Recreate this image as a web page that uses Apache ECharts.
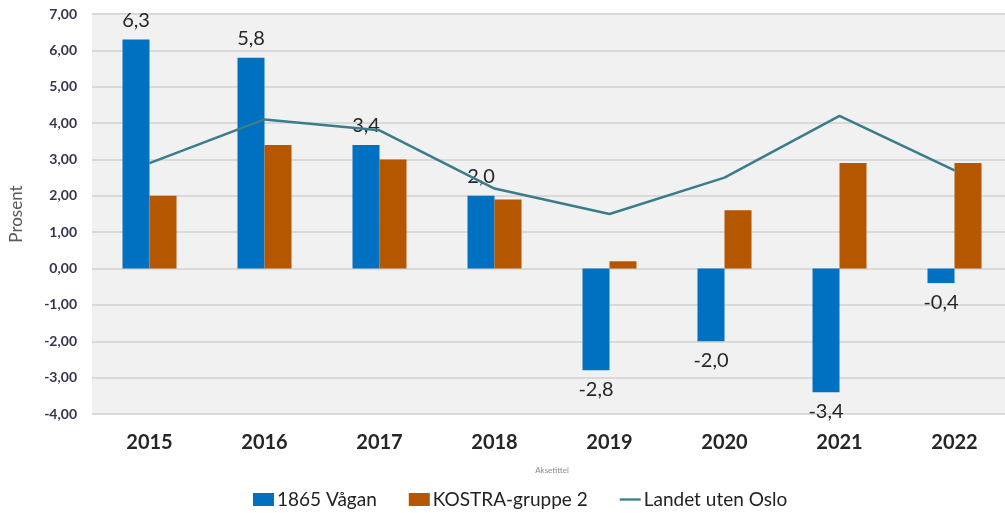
<!DOCTYPE html>
<html><head><meta charset="utf-8">
<script src="https://cdn.jsdelivr.net/npm/echarts@6/dist/echarts.min.js"></script>
<style>html,body{margin:0;padding:0;background:#fff;overflow:hidden}#c{width:1013px;height:513px}</style>
</head><body><div id="c"></div>
<script>
var categories = ['2015','2016','2017','2018','2019','2020','2021','2022'];
var vagan = [6.3, 5.8, 3.4, 2.0, -2.8, -2.0, -3.4, -0.4];
var kostra = [2.0, 3.4, 3.0, 1.9, 0.2, 1.6, 2.9, 2.9];
var landet = [2.9, 4.1, 3.8, 2.2, 1.5, 2.5, 4.2, 2.7];
var yTicks = {min: -4, max: 7, interval: 1};

var FONT = 'Lato, "Open Sans", sans-serif';
function comma(v, d){ return v.toFixed(d).replace('.', ','); }

var chart = echarts.init(document.getElementById('c'), null, {renderer:'canvas'});
chart.setOption({
  animation: false,
  textStyle: {fontFamily: FONT},
  grid: {left: 87, top: 14, right: 1, height: 400, show: true, backgroundColor: '#f1f1f1', borderWidth: 0, containLabel: false},
  legend: {
    top: 485, left: 248, itemGap: 32, itemWidth: 21, itemHeight: 13,
    textStyle: {fontSize: 19, color: '#222', fontFamily: FONT, padding: [0, 0, 0, -2]},
    data: [
      {name:'1865 Vågan', icon:'rect'},
      {name:'KOSTRA-gruppe 2', icon:'rect'},
      {name:'Landet uten Oslo', icon:'path://M0,0 L22,0 L22,2.4 L0,2.4 Z'}
    ]
  },
  xAxis: {
    type: 'category', data: categories,
    name: 'Aksetittel', nameLocation: 'middle', nameGap: 52,
    nameTextStyle: {fontSize: 8, color: '#8c8c8c'},
    axisLine: {show: false, onZero: false}, axisTick: {show: false},
    axisLabel: {fontSize: 20, color: '#262626', margin: 19, fontWeight: 'bold'}
  },
  yAxis: {
    type: 'value', min: yTicks.min, max: yTicks.max, interval: yTicks.interval,
    name: 'Prosent', nameLocation: 'middle', nameGap: 67, nameRotate: 90,
    nameTextStyle: {fontSize: 17, color: '#595959'},
    axisLine: {show: false}, axisTick: {show: false},
    axisLabel: {fontSize: 14, color: '#34344f', fontWeight: 'bold', margin: 15, formatter: function(v){ return comma(v, 2); }},
    splitLine: {show: true, lineStyle: {color: '#d9d9d9', width: 2}}
  },
  series: [
    {
      name: '1865 Vågan', type: 'bar', barWidth: 27, barGap: '0%',
      itemStyle: {color: '#0070c0'},
      data: vagan.map(function(v){ return {value: v, label: {show: true, position: v >= 0 ? 'top' : 'bottom'}}; }),
      label: {distance: 9, fontSize: 20, color: '#262626', formatter: function(p){ return comma(p.value, 1); }}
    },
    {
      name: 'KOSTRA-gruppe 2', type: 'bar', barWidth: 27, barGap: '0%',
      itemStyle: {color: '#b55600'},
      data: kostra
    },
    {
      name: 'Landet uten Oslo', type: 'line', data: landet,
      showSymbol: false, symbol: 'none',
      lineStyle: {color: '#3a7c89', width: 2.5}, itemStyle: {color: '#3a7c89'}
    }
  ]
});
</script></body></html>
